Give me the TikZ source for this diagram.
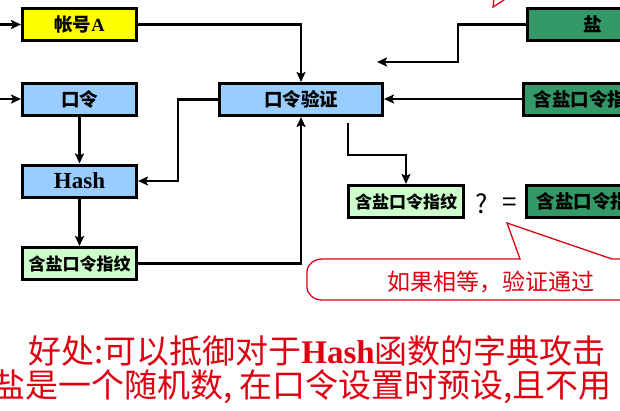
\documentclass[tikz,border=0pt]{standalone}
\usepackage{fontspec}
\setmainfont{Liberation Serif}
\newfontfamily\cjk{Noto Sans CJK SC}
\usetikzlibrary{arrows.meta}
\definecolor{huang}{HTML}{FFFF00}
\definecolor{lan}{HTML}{99CCFF}
\definecolor{qianlv}{HTML}{CCFFCC}
\definecolor{shenlv}{HTML}{339966}
\definecolor{hong}{HTML}{DD0010}
\tikzset{
  kuang/.style={draw, line width=3pt, minimum height=32pt, inner sep=0pt,
    font=\cjk\bfseries\fontsize{17pt}{17pt}\selectfont},
  dazi/.style={font=\cjk\bfseries\fontsize{18.5pt}{18.5pt}\selectfont},
  jian/.style={line width=2.6pt, -{Stealth[length=10pt,width=9pt,inset=2pt]}},
  qipao/.style={draw=hong, line width=1.3pt},
  hongzi/.style={text=hong, inner sep=0pt}
}
\begin{document}
\begin{tikzpicture}[x=1pt,y=-1pt]
  \useasboundingbox (0,0) rectangle (620,410);
  \clip (0,0) rectangle (620,410);

  \node (zhanghao) [kuang] [dazi, fill=huang, minimum width=114pt] at (79.5,24.5) {帐号{\rmfamily A}};
  \node (kouling) [kuang] [dazi, fill=lan, minimum width=114pt] at (79.5,99) {口令};
  \node (hash) [kuang] [fill=lan, minimum width=114pt, font=\bfseries\fontsize{23pt}{23pt}\selectfont] at (79.5,181) {Hash};
  \node (zhiwen) [kuang] [fill=qianlv, minimum width=114pt] at (79.5,263.5) {含盐口令指纹};
  \node (yanzheng) [kuang] [dazi, fill=lan, minimum width=163pt] at (301,99.5) {口令验证};
  \node (yan) [kuang] [dazi, fill=shenlv, minimum width=131pt] at (593,24.5) {盐};
  \node (zhiwenS) [kuang] [dazi, fill=shenlv, minimum width=131pt] at (589,99) {含盐口令指纹};
  \node (zhiwenN) [kuang] [fill=qianlv, minimum width=115pt] at (406,201.5) {含盐口令指纹};
  \node (zhiwenR) [kuang] [dazi, fill=shenlv, minimum width=131pt] at (592,201.5) {含盐口令指纹};
  \node (wen) [font=\cjk\fontsize{26pt}{26pt}\selectfont] at (482,204) {?};
  \node (deng) [font=\cjk\fontsize{26pt}{26pt}\selectfont] at (510,205) {=};

  \coordinate (ruA) at (0,24.5);
  \coordinate (ruK) at (0,99);
  \coordinate (yanEnd) at (377,62);

  \draw [jian] (ruA)--(zhanghao);
  \draw [jian] (ruK)--(kouling);
  \draw [jian] (zhanghao)-|(yanzheng);
  \draw [jian] (yan.west)--++(-68,0)|-(yanEnd);
  \draw [jian] (zhiwenS.west)--(zhiwenS.west-|yanzheng.east);
  \draw [jian] (yanzheng.west)--++(-40,0)|-(hash.east);
  \draw [jian] (kouling)--(hash);
  \draw [jian] (hash)--(zhiwen);
  \draw [jian] (zhiwen)-|(yanzheng);
  \draw [jian] ([xshift=47pt,yshift=-6pt]yanzheng.south)--++(0,32)-|(zhiwenN);

  \draw [qipao] (670,300)--(322,300) to[out=180,in=270] (307,287)--(307,272)
    to[out=90,in=180] (322,259)--(520,259)--(507,223)--(612,259)--(670,259);
  \draw [qipao] (494,-2)--(493,7)--(507,-2);
  \node (tongguo) [hongzi, font=\cjk\fontsize{23pt}{23pt}\selectfont] at (491,282) {如果相等，验证通过};

  \node (haochu) [hongzi, font=\cjk\fontsize{33pt}{33pt}\selectfont] at (317,351)
    {好处:可以抵御对于{\rmfamily\bfseries Hash}函数的字典攻击};
  \node (suiji) [hongzi, anchor=west, font=\cjk\fontsize{33pt}{33pt}\selectfont] at (-8,387)
    {盐是一个随机数, 在口令设置时预设,且不用};

\end{tikzpicture}
\end{document}
